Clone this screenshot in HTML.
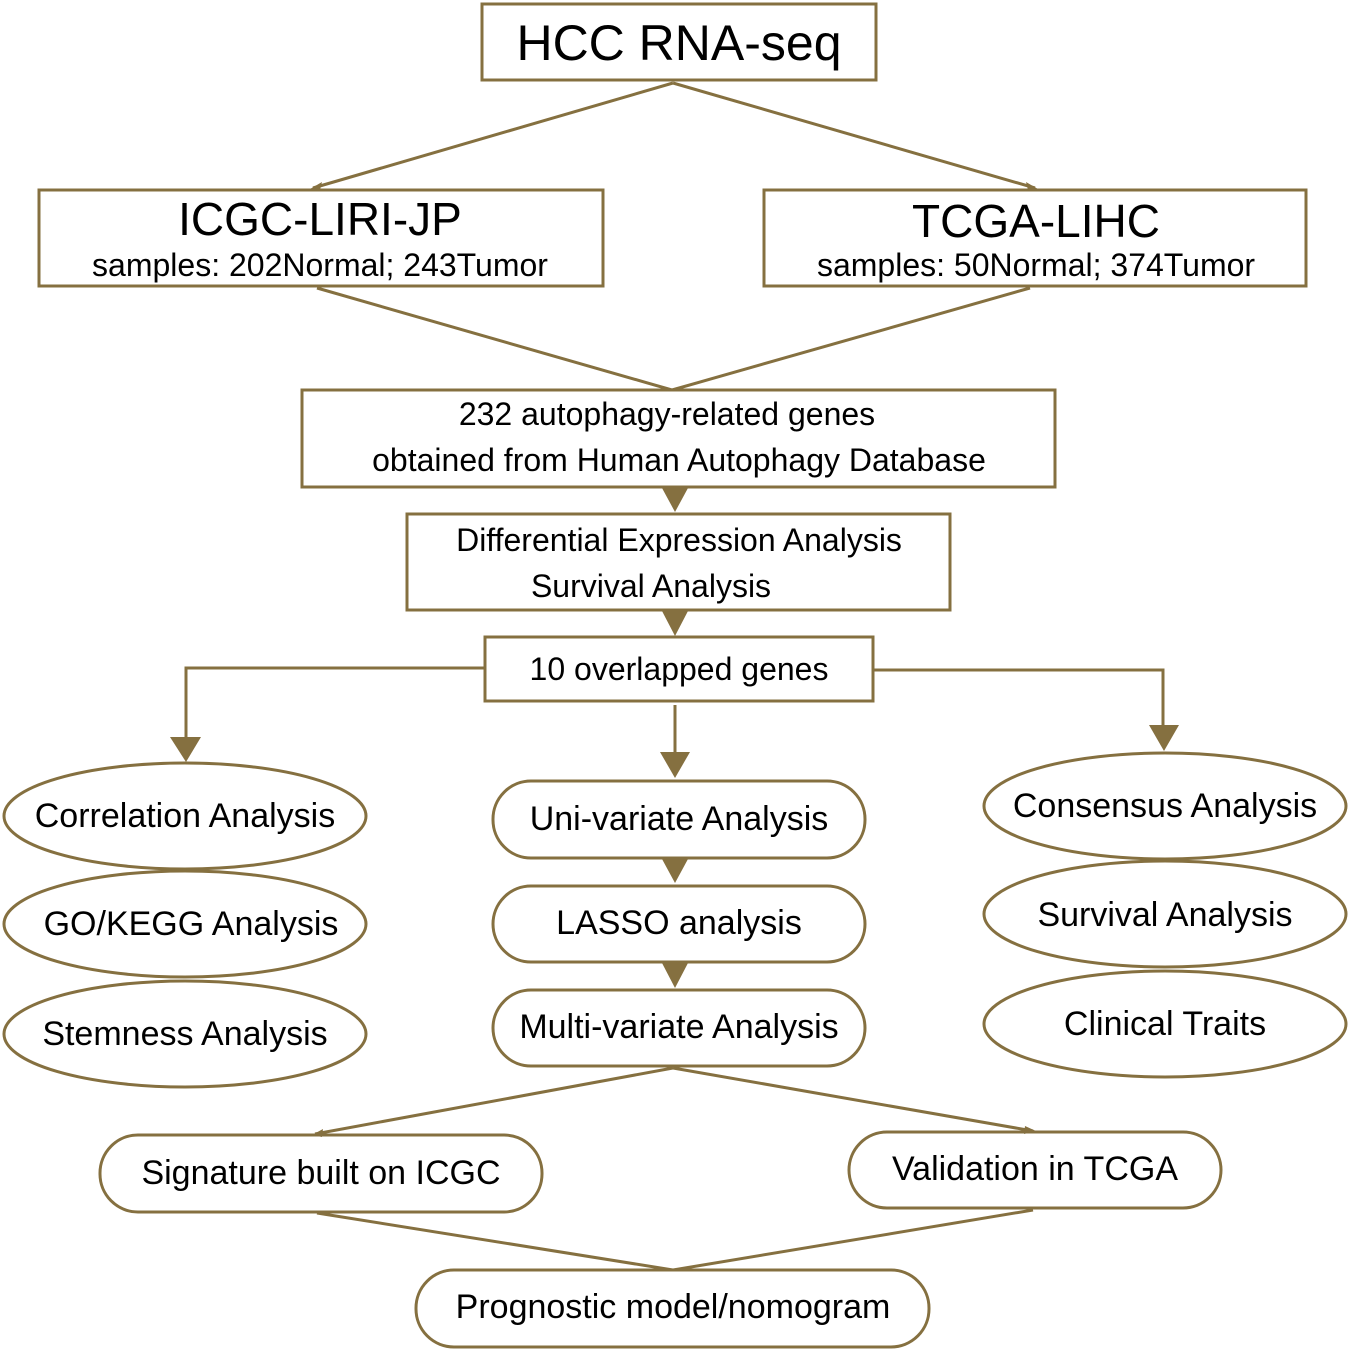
<!DOCTYPE html>
<html><head><meta charset="utf-8"><style>body{margin:0;background:#fff}svg{display:block}text{font-family:"Liberation Sans",Arial,sans-serif;fill:#000;text-anchor:middle}</style></head><body>
<svg width="1350" height="1350" viewBox="0 0 1350 1350" xmlns="http://www.w3.org/2000/svg">
<g fill="none" stroke="#857040" stroke-width="3">
<rect x="482" y="4" width="394" height="76"/>
<rect x="39" y="190" width="564" height="96"/>
<rect x="764" y="190" width="542" height="96"/>
<rect x="302" y="390" width="753" height="97"/>
<rect x="407" y="514" width="543" height="96"/>
<rect x="485" y="637" width="388" height="64"/>
<line x1="673" y1="83" x2="313" y2="188"/>
<line x1="673" y1="83" x2="1035" y2="188"/>
<line x1="317" y1="288" x2="672" y2="390"/>
<line x1="1030" y1="288" x2="672" y2="390"/>
<polyline points="485,668 186,668 186,740"/>
<polyline points="873,670 1163,670 1163,728"/>
<line x1="675" y1="705" x2="675" y2="755"/>
<ellipse cx="185" cy="816" rx="181" ry="53"/>
<ellipse cx="185" cy="924" rx="181" ry="53"/>
<ellipse cx="185" cy="1034" rx="181" ry="53"/>
<ellipse cx="1165" cy="806" rx="181" ry="53"/>
<ellipse cx="1165" cy="914" rx="181" ry="53"/>
<ellipse cx="1165" cy="1024" rx="181" ry="53"/>
<rect x="493" y="781" width="372" height="77" rx="38"/>
<rect x="493" y="886" width="372" height="76" rx="38"/>
<rect x="493" y="990" width="372" height="76" rx="38"/>
<line x1="673" y1="1068" x2="315" y2="1134"/>
<line x1="673" y1="1068" x2="1033" y2="1131"/>
<rect x="100" y="1135" width="442" height="77" rx="38"/>
<rect x="849" y="1132" width="372" height="76" rx="38"/>
<line x1="317" y1="1213" x2="673" y2="1270"/>
<line x1="1033" y1="1210" x2="673" y2="1270"/>
<rect x="416" y="1270" width="513" height="77" rx="38"/>
</g>
<g fill="#857040">
<polygon points="310,189 322,182 320,190"/>
<polygon points="1038,189 1026,182 1028,190"/>
<polygon points="662,488 688,488 675,512"/>
<polygon points="662,611 688,611 675,636"/>
<polygon points="170,737 201,737 186,762"/>
<polygon points="1149,725 1179,725 1164,751"/>
<polygon points="660,752 690,752 675,778"/>
<polygon points="662,859 688,859 675,883"/>
<polygon points="662,963 688,963 675,988"/>
<polygon points="312,1135 323,1129 322,1137"/>
<polygon points="1036,1131 1025,1126 1024,1134"/>
</g>
<text x="679" y="60" font-size="50">HCC RNA-seq</text>
<text x="320" y="235" font-size="46">ICGC-LIRI-JP</text>
<text x="320" y="276" font-size="32">samples: 202Normal; 243Tumor</text>
<text x="1036" y="237" font-size="46">TCGA-LIHC</text>
<text x="1036" y="276" font-size="32">samples: 50Normal; 374Tumor</text>
<text x="667" y="425" font-size="32">232 autophagy-related genes</text>
<text x="679" y="471" font-size="32">obtained from Human Autophagy Database</text>
<text x="679" y="551" font-size="32">Differential Expression Analysis</text>
<text x="651" y="597" font-size="32">Survival Analysis</text>
<text x="679" y="680" font-size="32">10 overlapped genes</text>
<text x="185" y="827" font-size="34">Correlation Analysis</text>
<text x="191" y="935" font-size="34">GO/KEGG Analysis</text>
<text x="185" y="1045" font-size="34">Stemness Analysis</text>
<text x="679" y="830" font-size="34">Uni-variate Analysis</text>
<text x="679" y="934" font-size="34">LASSO analysis</text>
<text x="679" y="1038" font-size="34">Multi-variate Analysis</text>
<text x="1165" y="817" font-size="34">Consensus Analysis</text>
<text x="1165" y="926" font-size="34">Survival Analysis</text>
<text x="1165" y="1035" font-size="34">Clinical Traits</text>
<text x="321" y="1184" font-size="34">Signature built on ICGC</text>
<text x="1035" y="1180" font-size="34">Validation in TCGA</text>
<text x="673" y="1318" font-size="34">Prognostic model/nomogram</text>
</svg>
</body></html>
